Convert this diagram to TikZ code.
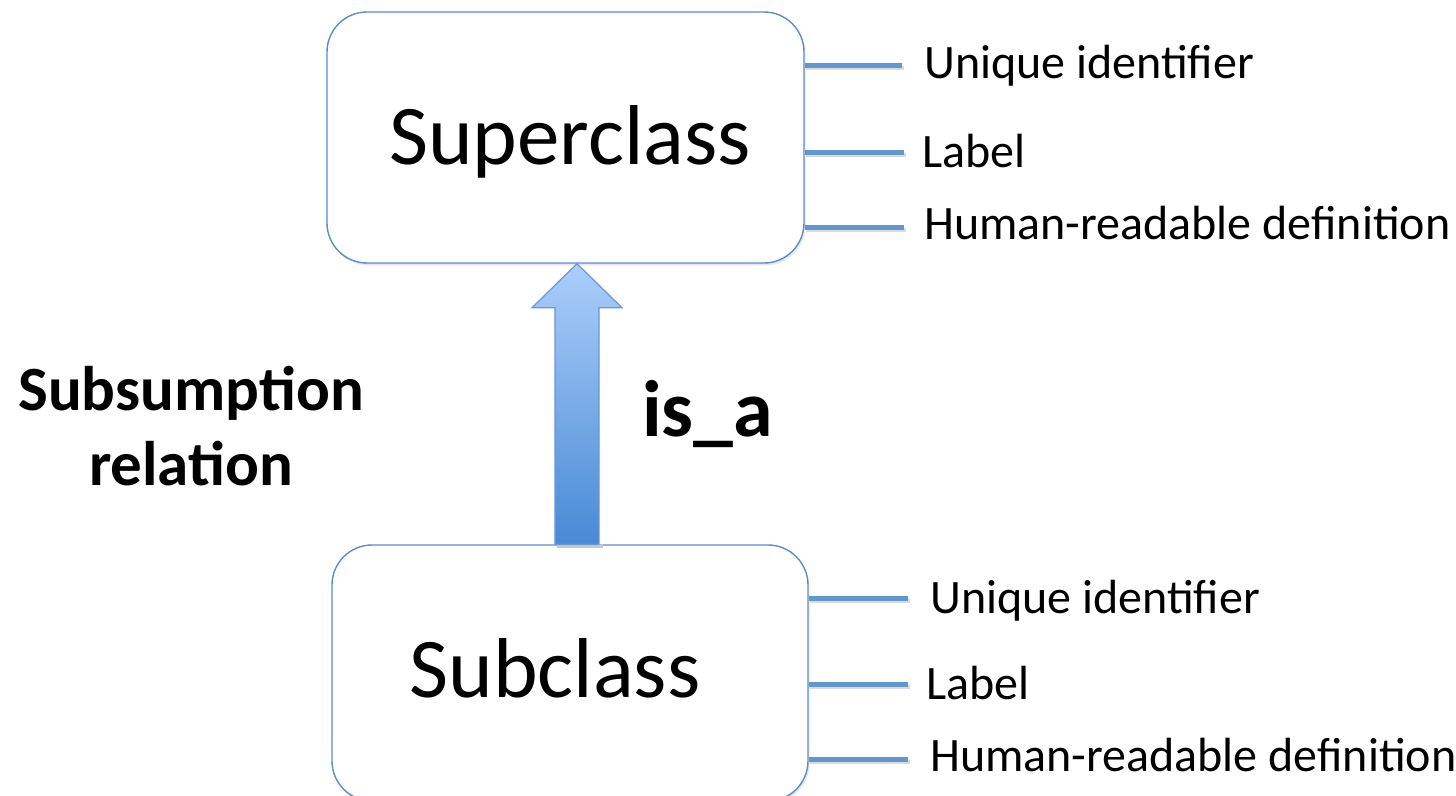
\documentclass[tikz,border=0pt]{standalone}
\usepackage{fontspec}
\setmainfont{Carlito}
\usetikzlibrary{calc,shadows}
\definecolor{boxblue}{RGB}{92,141,203}
\definecolor{linblue}{RGB}{98,150,206}
\definecolor{arrtop}{RGB}{172,206,250}
\definecolor{arrbot}{RGB}{72,138,214}
\definecolor{arredge}{RGB}{104,152,212}
\tikzset{
  classbox/.style={draw=boxblue, line width=1.4pt, fill=white, rounded corners=40pt,
    drop shadow={opacity=0.18, shadow xshift=1.5pt, shadow yshift=-2.5pt}},
  bigtxt/.style={font=\fontsize{85}{100}\selectfont, inner sep=0pt, text height=54.7pt, text depth=0pt},
  attrtxt/.style={font=\fontsize{48}{58}\selectfont, anchor=west, inner ysep=0pt, inner xsep=0pt,
    text height=30.9pt, text depth=0pt},
  attrline/.style={draw=linblue, line width=5pt},
  attrshadow/.style={draw=black!14, line width=4pt},
  boldtxt/.style={font=\bfseries\fontsize{63}{76}\selectfont, inner sep=0pt, align=center},
  isatxt/.style={font=\bfseries\fontsize{80}{96}\selectfont, inner sep=0pt},
  arrowfill/.style={top color=arrtop, bottom color=arrbot, draw=arredge, line width=1.2pt, line join=miter}
}
\begin{document}
\begin{tikzpicture}[x=1pt,y=-1pt]
\useasboundingbox (0,0) rectangle (1456,795);
\clip (0,0) rectangle (1456,795);
\fill[white] (0,0) rectangle (1456,795);

% boxes
\node[classbox, minimum width=477pt, minimum height=251pt] (sup) at (565.5,137.5) {};
\node[classbox, minimum width=476pt, minimum height=256pt] (sub) at (570,673) {};

% box texts
\node[bigtxt] (suptxt) at (570,137.5) {Superclass};
\node[bigtxt] (subtxt) at (555,670) {Subclass};

% attribute labels, superclass
\coordinate (supA) at (902,65);
\coordinate (supB) at (904,152);
\coordinate (supC) at (904,227);
\node[attrtxt] (supid)  at ($(supA)+(22,-2)$) {Unique identifier};
\node[attrtxt] (suplab) at ($(supB)+(18,0)$) {Label};
\node[attrtxt] (supdef) at ($(supC)+(20,-3)$) {Human-readable definition};

% attribute labels, subclass
\coordinate (subA) at (908,598);
\coordinate (subB) at (908,684);
\coordinate (subC) at (908,759);
\node[attrtxt] (subid)  at ($(subA)+(22,0)$) {Unique identifier};
\node[attrtxt] (sublab) at ($(subB)+(18,0)$) {Label};
\node[attrtxt] (subdef) at ($(subC)+(22,-3)$) {Human-readable definition};

% attribute lines (shadow then line)
\foreach \c/\b in {supA/sup,supB/sup,supC/sup,subA/sub,subB/sub,subC/sub}{
  \draw[attrshadow] ($(\b.east |- \c)+(1.5,2.5)$) -- ($(\c)+(1.5,2.5)$);
  \draw[attrline] (\b.east |- \c) -- (\c);
}

% is_a arrow
\coordinate (ax) at (577,0);
\coordinate (tip) at (ax |- sup.south);
\coordinate (base) at (ax |- sub.north);
\fill[black!22] ($(base)+(-20,0)$) rectangle ($(base)+(26,4)$);
\path[arrowfill] (tip) -- ++(45,44) -- ++(-23,0) -- ($(base)+(22,0)$)
  -- ($(base)+(-22,0)$) -- ($(tip)+(-22,44)$) -- ++(-23,0) -- cycle;

% relation labels
\node[isatxt, anchor=base west] (isa) at (642,436) {is\_a};
\node[boldtxt, anchor=base] (subs) at (191,410) {Subsumption};
\node[boldtxt, anchor=base] (rel) at (191,485) {relation};
\end{tikzpicture}
\end{document}
